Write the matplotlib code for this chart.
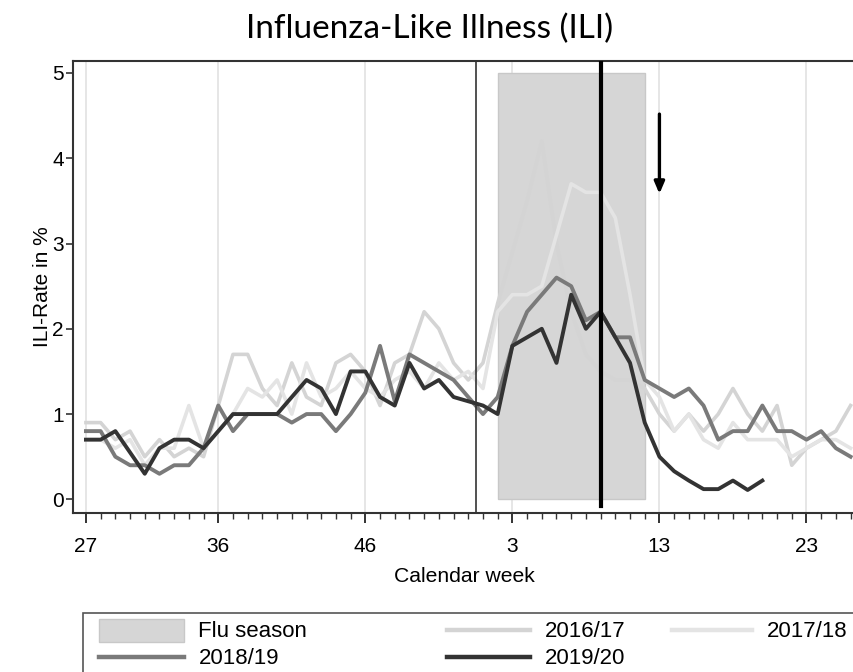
import numpy as np
import matplotlib.pyplot as plt
from matplotlib.patches import Rectangle

# calendar weeks from week 27 to week 26 of the following year (53-week year)
weeks = list(range(27, 54)) + list(range(1, 27))
tick_weeks = [27, 36, 46, 3, 13, 23]

# ILI rate in % per season
ili_2016_17 = [0.9, 0.9, 0.7, 0.8, 0.5, 0.7, 0.5, 0.6, 0.5, 1.1, 1.7, 1.7, 1.3,
               1.1, 1.6, 1.2, 1.1, 1.6, 1.7, 1.5, 1.1, 1.6, 1.7, 2.2, 2.0, 1.6, 1.4, 1.6,
               2.3, 2.9, 3.5, 4.2, 3.0, 2.2, 1.7, 1.5, 1.4, 1.4, 1.3,
               1.0, 0.8, 1.0, 0.8, 1.0, 1.3, 1.0, 0.8, 1.1, 0.4, 0.6, 0.7, 0.8, 1.1]
ili_2017_18 = [0.7, 0.7, 0.6, 0.7, 0.4, 0.6, 0.6, 1.1, 0.6, 0.8, 1.0, 1.3, 1.2,
               1.4, 1.0, 1.6, 1.2, 1.3, 1.5, 1.3, 1.2, 1.4, 1.5, 1.3, 1.6, 1.4, 1.5, 1.3,
               2.2, 2.4, 2.4, 2.5, 3.1, 3.7, 3.6, 3.6, 3.3, 2.4, 1.4,
               1.2, 0.8, 1.0, 0.7, 0.6, 0.9, 0.7, 0.7, 0.7, 0.5, 0.6, 0.7, 0.7, 0.6]
ili_2018_19 = [0.8, 0.8, 0.5, 0.4, 0.4, 0.3, 0.4, 0.4, 0.6, 1.1, 0.8, 1.0, 1.0,
               1.0, 0.9, 1.0, 1.0, 0.8, 1.0, 1.25, 1.8, 1.15, 1.7, 1.6, 1.5, 1.4, 1.2, 1.0,
               1.2, 1.8, 2.2, 2.4, 2.6, 2.5, 2.1, 2.2, 1.9, 1.9, 1.4,
               1.3, 1.2, 1.3, 1.1, 0.7, 0.8, 0.8, 1.1, 0.8, 0.8, 0.7, 0.8, 0.6, 0.5]
ili_2019_20 = [0.7, 0.7, 0.8, 0.55, 0.3, 0.6, 0.7, 0.7, 0.6, 0.8, 1.0, 1.0, 1.0,
               1.0, 1.2, 1.4, 1.3, 1.0, 1.5, 1.5, 1.2, 1.1, 1.6, 1.3, 1.4, 1.2, 1.15, 1.1,
               1.0, 1.8, 1.9, 2.0, 1.6, 2.4, 2.0, 2.2, 1.9, 1.6, 0.9,
               0.5, 0.33, 0.22, 0.12, 0.12, 0.22, 0.11, 0.22]

season_start, season_end = 2, 12   # flu season, calendar weeks
year_break = 26.5                 # between week 53 and week 1
marker_week = 9                   # thick vertical line
arrow_week = 13

c_1617 = '#d4d4d4'
c_1718 = '#e4e4e4'
c_1819 = '#7a7a7a'
c_1920 = '#333333'
c_season = '#d6d6d6'

plt.rcParams['font.family'] = ['Liberation Sans', 'DejaVu Sans']

def wi(w):
    # week number -> position on the x axis
    return weeks.index(w)

x = np.arange(len(weeks))

fig = plt.figure(figsize=(8.54, 6.72), dpi=100)
ax = fig.add_axes([73 / 854, 1 - 513 / 672, 782 / 854, 452 / 672])

ax.add_patch(Rectangle((wi(season_start), 0), wi(season_end) - wi(season_start), 5,
                       facecolor=c_season, edgecolor='#c8c8c8', lw=1, zorder=1))

for w in tick_weeks:
    ax.axvline(wi(w), color='#e2e2e2', lw=1.2, zorder=0)

ax.plot(x, ili_2016_17, color=c_1617, lw=2.6, zorder=2)
ax.plot(x, ili_2017_18, color=c_1718, lw=2.6, zorder=2)
ax.plot(x, ili_2018_19, color=c_1819, lw=2.8, zorder=3)
ax.plot(x[:len(ili_2019_20)], ili_2019_20, color=c_1920, lw=2.8, zorder=4)

ax.axvline(year_break, color='#333333', lw=1.2, zorder=5)
ax.axvline(wi(marker_week), ymin=0.015, ymax=1, color='black', lw=3, zorder=6)

ax.annotate('', xy=(wi(arrow_week), 3.55), xytext=(wi(arrow_week), 4.55),
            arrowprops=dict(arrowstyle='-|>,head_width=0.3,head_length=0.7',
                            color='black', lw=2.4), zorder=7)

ax.set_xlim(-0.88, 52.3)
ax.set_ylim(-0.16, 5.14)
ax.set_xticks([wi(w) for w in tick_weeks])
ax.set_xticklabels([str(w) for w in tick_weeks], fontsize=15)
ax.set_xticks(x, minor=True)
ax.set_yticks(range(6))
ax.tick_params(axis='y', labelsize=15, length=5, width=1.2, color='#333333', pad=1.5)
ax.tick_params(axis='x', which='major', length=7, width=1.4, color='#333333', pad=10)
ax.tick_params(axis='x', which='minor', length=4, width=1, color='#333333')
for s in ax.spines.values():
    s.set_color('#333333')
    s.set_linewidth(1.5)

ax.set_xlabel('Calendar week', fontsize=15.2, labelpad=8)
ax.set_ylabel('ILI-Rate in %', fontsize=15, labelpad=0)

fig.text(0.503, 1 - 38 / 672, 'Influenza-Like Illness (ILI)', ha='center', va='baseline',
         fontsize=24, family=['Lato', 'DejaVu Sans'])

# legend, laid out in pixel coordinates below the plot
lax = fig.add_axes([0, 0, 1, 1], zorder=-1)
lax.set_xlim(0, 854)
lax.set_ylim(672, 0)
lax.axis('off')
lax.add_patch(Rectangle((83, 613), 790, 80, facecolor='white', edgecolor='#555555', lw=1.2))
lax.add_patch(Rectangle((99, 619), 85, 23, facecolor=c_season, edgecolor='#c8c8c8', lw=1))
legend_lines = [((447, 530), 630, c_1617, '2016/17'),
                ((672, 752), 630, c_1718, '2017/18'),
                ((99, 184), 657, c_1819, '2018/19'),
                ((447, 530), 657, c_1920, '2019/20')]
for (x0, x1), y, c, lab in legend_lines:
    lax.plot([x0, x1], [y, y], color=c, lw=3.2)
    lax.text(x1 + 15, y + 1.5, lab, va='center', fontsize=16)
lax.text(198, 631.5, 'Flu season', va='center', fontsize=16)

fig.savefig('out.png', dpi=100)
